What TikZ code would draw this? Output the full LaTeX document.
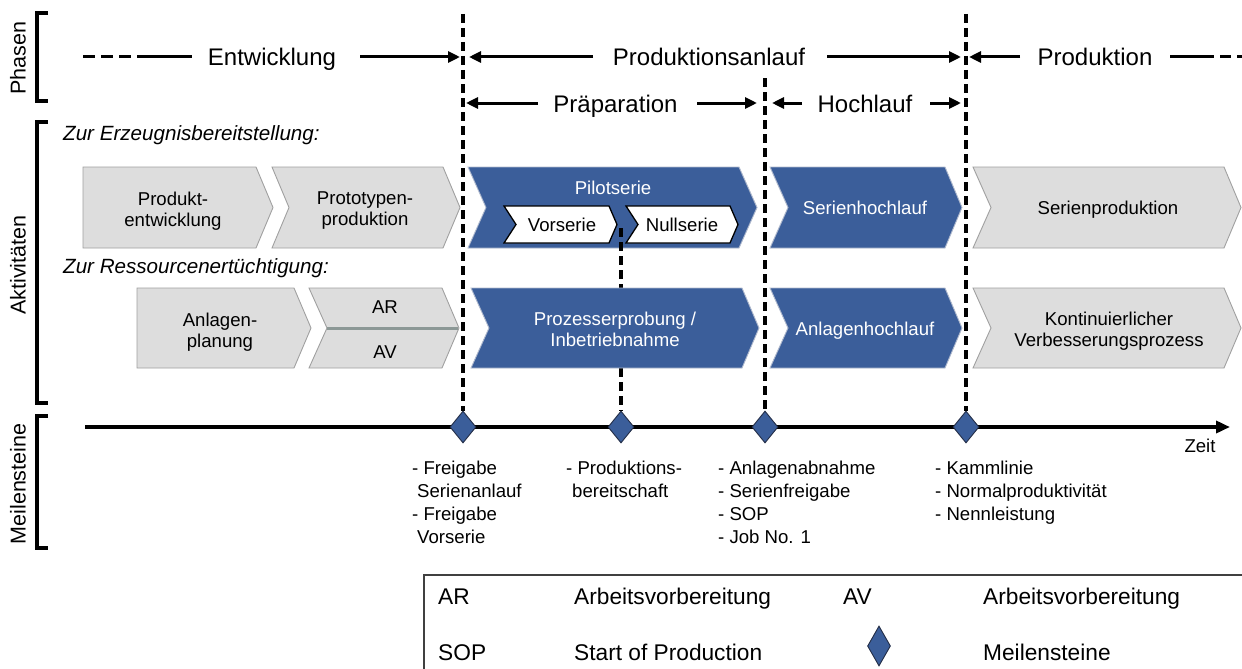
\documentclass[tikz,border=0pt]{standalone}
\usepackage{fontspec}
\setmainfont{Liberation Sans}
\usetikzlibrary{arrows.meta,shapes.geometric}
\definecolor{bluefill}{RGB}{59,94,154}
\definecolor{blueedge}{RGB}{175,185,205}
\definecolor{grayfill}{RGB}{221,221,221}
\definecolor{grayedge}{RGB}{160,160,160}
\definecolor{divline}{RGB}{140,152,150}
\definecolor{diaedge}{RGB}{35,45,70}
\newcommand{\chevshape}[7]{\path[#1] (#2,#4) -- ({#3-#7},#4) -- (#3,{(#4+#5)/2}) -- ({#3-#7},#5) -- (#2,#5) -- ({#2+#6},{(#4+#5)/2}) -- cycle;}
\begin{document}
\begin{tikzpicture}[x=1pt,y=-1pt,
  sidetxt/.style={font=\fontsize{21.5}{26}\selectfont, rotate=90, inner sep=0},
  phasetxt/.style={font=\fontsize{24}{28}\selectfont, anchor=base, inner sep=0},
  bracket/.style={line width=3.5pt, line join=miter},
  pharrow/.style={line width=3pt, -{Triangle[length=12pt,width=11pt]}},
  phline/.style={line width=3pt},
  phdash/.style={line width=3pt, dash pattern=on 12pt off 6pt},
  vdash/.style={line width=3.2pt, dash pattern=on 9pt off 5pt},
  grayc/.style={fill=grayfill, draw=grayedge, line width=0.9pt},
  bluec/.style={fill=bluefill, draw=blueedge, line width=0.9pt},
  whitec/.style={fill=white, draw=black, line width=1.3pt},
  chevtxt/.style={font=\fontsize{18.6}{21}\selectfont, align=center, inner sep=0},
  bluetxt/.style={chevtxt, text=white},
  ittxt/.style={font=\fontsize{20.6}{24}\selectfont\itshape, anchor=base west, inner sep=0},
  axisline/.style={line width=4pt, -{Triangle[length=14pt,width=12pt]}},
  milestone/.style={shape=diamond, fill=bluefill, draw=diaedge, line width=0.9pt, inner sep=0, minimum width=26pt, minimum height=32pt},
  mstxt/.style={font=\fontsize{18.6}{23}\selectfont, align=left, anchor=north west, inner sep=0},
  legtxt/.style={font=\fontsize{22.7}{26}\selectfont, anchor=base west, inner sep=0},
  divider/.style={draw=divline, line width=3pt}
]
\useasboundingbox (0,0) rectangle (1242,669);

% side labels and brackets
\node[sidetxt] (lphasen) at (18,58) {Phasen};
\node[sidetxt] (lakt) at (18,265) {Aktivitäten};
\node[sidetxt] (lmeil) at (18,484) {Meilensteine};
\draw[bracket] (48,13) -- (37,13) -- (37,101) -- (48,101);
\draw[bracket] (48,122) -- (37,122) -- (37,403) -- (48,403);
\draw[bracket] (48,416) -- (37,416) -- (37,548) -- (48,548);

% phases
\node[phasetxt] (ent) at (272,66) {Entwicklung};
\node[phasetxt] (pa) at (709,66) {Produktionsanlauf};
\node[phasetxt] (prod) at (1095,66) {Produktion};
\node[phasetxt] (prae) at (615.5,112) {Präparation};
\node[phasetxt] (hoch) at (865,112) {Hochlauf};

\coordinate (e0) at (83,57);
\coordinate (e1) at (137,57);
\coordinate (e2) at (192,57);
\coordinate (e3) at (360,57);
\coordinate (e4) at (460,57);
\coordinate (pa1) at (593,57);
\coordinate (pa1t) at (469,57);
\coordinate (pa2) at (827,57);
\coordinate (pa2t) at (961,57);
\coordinate (pr1) at (1020,57);
\coordinate (pr1t) at (969,57);
\coordinate (pr2) at (1170,57);
\coordinate (pr3) at (1203,57);
\coordinate (pr4) at (1242,57);
\coordinate (pp1) at (538,103);
\coordinate (pp1t) at (466,103);
\coordinate (pp2) at (697,103);
\coordinate (pp2t) at (757,103);
\coordinate (hh1) at (802,103);
\coordinate (hh1t) at (772,103);
\coordinate (hh2) at (930,103);
\coordinate (hh2t) at (961,103);

\draw[phdash] (e0) -- (e1);
\draw[phline] (e1) -- (e2);
\draw[pharrow] (e3) -- (e4);
\draw[pharrow] (pa1) -- (pa1t);
\draw[pharrow] (pa2) -- (pa2t);
\draw[pharrow] (pr1) -- (pr1t);
\draw[phline] (pr2) -- (pr3);
\draw[phline, dash pattern=on 11pt off 6pt] (pr3) -- (pr4);
\draw[pharrow] (pp1) -- (pp1t);
\draw[pharrow] (pp2) -- (pp2t);
\draw[pharrow] (hh1) -- (hh1t);
\draw[pharrow] (hh2) -- (hh2t);

% activity labels
\node[ittxt] (zur1) at (63,140) {Zur Erzeugnisbereitstellung:};
\node[ittxt] (zur2) at (63,273) {Zur Ressourcenertüchtigung:};

% row 1 chevrons
\chevshape{grayc}{83}{273}{167}{248}{0}{17}
\chevshape{grayc}{272}{460}{167}{248}{17}{17}
\chevshape{bluec}{468}{757}{167}{248}{18}{18}
\chevshape{bluec}{770}{962}{167}{248}{18}{17}
\chevshape{grayc}{973}{1241}{167}{248}{18}{17}
\chevshape{whitec}{504}{617}{206}{243}{12}{8}
\chevshape{whitec}{626}{738}{206}{243}{12}{8}

\node[chevtxt] (c1) at (173,211) {Produkt-\\entwicklung};
\node[chevtxt] (c2) at (365,211) {Prototypen-\\produktion};
\node[bluetxt] (c3) at (613,188) {Pilotserie};
\node[chevtxt] (c3a) at (562,225) {Vorserie};
\node[chevtxt] (c3b) at (682,225) {Nullserie};
\node[bluetxt] (c4) at (865,208) {Serienhochlauf};
\node[chevtxt] (c5) at (1108,210) {Serienproduktion};

% time axis and milestones
\coordinate (v1) at (463,14);
\coordinate (v2) at (765,78);
\coordinate (v3) at (966,14);
\coordinate (v4) at (621,228);
\coordinate (ax0) at (85,427);
\coordinate (ax1) at (1230,427);
\draw[axisline] (ax0) -- (ax1);
\node[milestone] (m1) at (463,427) {};
\node[milestone] (m2) at (621,427) {};
\node[milestone] (m3) at (765,427) {};
\node[milestone] (m4) at (966,427) {};
\node[chevtxt] (zeit) at (1200,446) {Zeit};

\draw[vdash] (v4) -- (m2.north);

% row 2 chevrons
\chevshape{grayc}{137}{311}{288}{368}{0}{17}
\chevshape{grayc}{309}{459}{288}{368}{18}{17}
\draw[divider] (327,328) -- (458,328);
\chevshape{bluec}{471}{759}{288}{368}{18}{17}
\chevshape{bluec}{770}{962}{288}{368}{18}{17}
\chevshape{grayc}{973}{1241}{288}{368}{18}{17}

\node[chevtxt] (d1) at (220,332) {Anlagen-\\planung};
\node[chevtxt] (d2a) at (385,307.5) {AR};
\node[chevtxt] (d2b) at (385,352.5) {AV};
\node[bluetxt] (d3) at (615,329) {Prozesserprobung /\\Inbetriebnahme};
\node[bluetxt] (d4) at (865,331) {Anlagenhochlauf};
\node[chevtxt] (d5) at (1109,331) {Kontinuierlicher\\Verbesserungsprozess};

% dashed phase boundaries
\draw[vdash] (v1) -- (m1.north);
\draw[vdash] (v2) -- (m3.north);
\draw[vdash] (v3) -- (m4.north);

% milestone texts
\node[mstxt] (t1) at (412,460.4) {- Freigabe\\\hspace*{5pt}Serienanlauf\\- Freigabe\\\hspace*{5pt}Vorserie};
\node[mstxt] (t2) at (566,460.4) {- Produktions-\\\hspace*{6pt}bereitschaft};
\node[mstxt] (t3) at (718,460.4) {- Anlagenabnahme\\- Serienfreigabe\\- SOP\\- Job No. 1};
\node[mstxt] (t4) at (935,460.4) {- Kammlinie\\- Normalproduktivität\\- Nennleistung};

% legend
\draw[draw=black!75, line width=1.2pt] (424,575) rectangle (1300,720);
\node[legtxt] (l1) at (438,604) {AR};
\node[legtxt] (l2) at (574,604) {Arbeitsvorbereitung};
\node[legtxt] (l3) at (843,604) {AV};
\node[legtxt] (l4) at (983,604) {Arbeitsvorbereitung};
\node[legtxt] (l5) at (438,660) {SOP};
\node[legtxt] (l6) at (574,660) {Start of Production};
\node[milestone, minimum width=23pt, minimum height=40pt] (l7) at (879,646) {};
\node[legtxt] (l8) at (983,660) {Meilensteine};
\end{tikzpicture}
\end{document}
